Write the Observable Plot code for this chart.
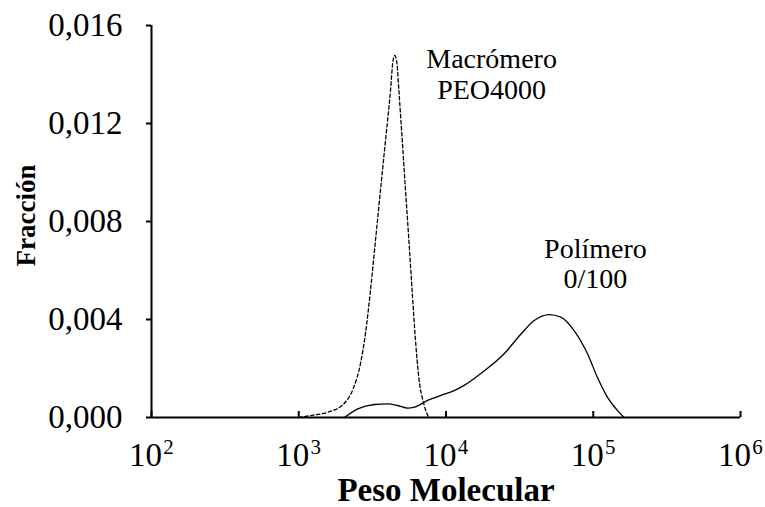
<!DOCTYPE html>
<html>
<head>
<meta charset="utf-8">
<script src="https://cdn.jsdelivr.net/npm/d3@7"></script>
<script src="https://cdn.jsdelivr.net/npm/@observablehq/plot@0.6"></script>
<style>
  html, body { margin: 0; padding: 0; background: #fff; }
  #chart svg { display: block; font-family: "Liberation Serif", "Times New Roman", serif; }
</style>
</head>
<body>
<div id="chart"></div>
<script>
// Macrómero PEO4000 (dashed)
const macroM    = [1000, 1259, 1585, 2023, 2366, 2624, 2838, 3069, 3319, 3589, 3882, 4198, 4345, 4487, 4645, 4786, 5047, 5309, 5598, 5888, 6209, 6531, 7063, 7638];
const macroFrac = [0, 0.0001, 0.00022, 0.00056, 0.00124, 0.00219, 0.00342, 0.00518, 0.00722, 0.00927, 0.0113, 0.01335, 0.01445, 0.01478, 0.01445, 0.01335, 0.0113, 0.00927, 0.00722, 0.00518, 0.00314, 0.00165, 0.00056, 0];

// Polímero 0/100 (solid)
const polyM    = [2042, 2518, 3266, 4027, 4699, 5495, 6095, 7499, 9247, 11376, 13183, 17258, 24831, 32211, 39719, 50234, 60256, 74131, 91411, 106660, 124738, 145881, 161808];
const polyFrac = [0, 0.00035, 0.00053, 0.00056, 0.00049, 0.00038, 0.00042, 0.0007, 0.0009, 0.0011, 0.0013, 0.0018, 0.0026, 0.0034, 0.00396, 0.0042, 0.0041, 0.00355, 0.0026, 0.00164, 0.00083, 0.00029, 0];

// Axes
const xTicks = [1e2, 1e3, 1e4, 1e5, 1e6];
const xTickBase = "10";
const xTickExp = ["2", "3", "4", "5", "6"];
const yTicks = [0, 0.004, 0.008, 0.012, 0.016];
const xTitle = "Peso Molecular";
const yTitle = "Fracción";

// Annotations
const annLabels = ["Macrómero\nPEO4000", "Polímero\n0/100"];
const annM = [20400, 103500];
const annFrac = [0.01302, 0.00527];

const macro = macroM.map((m, i) => ({m, f: macroFrac[i]}));
const poly = polyM.map((m, i) => ({m, f: polyFrac[i]}));
const ann = annLabels.map((t, i) => ({t, m: annM[i], f: annFrac[i]}));
const xt = xTicks.map((v, i) => ({v, e: xTickExp[i]}));

const chart = Plot.plot({
  width: 765,
  height: 507,
  marginLeft: 151,
  marginRight: 25,
  marginTop: 25,
  marginBottom: 90,
  x: {type: "log", domain: [1e2, 1e6]},
  y: {domain: [0, 0.016]},
  marks: [
    // axis lines
    Plot.ruleX([1e2], {stroke: "#000", strokeWidth: 2}),
    Plot.ruleY([0], {stroke: "#000", strokeWidth: 2}),
    // y axis ticks & labels
    Plot.axisY({
      ticks: yTicks,
      tickSize: 5,
      tickPadding: 24,
      tickFormat: d => d.toFixed(3).replace(".", ","),
      fontSize: 33,
      strokeWidth: 2,
      label: null,
      fill: "#000",
      stroke: "#000"
    }),
    // x axis inward ticks
    Plot.axisX({
      ticks: xTicks,
      tickSize: -6,
      tickFormat: () => "",
      strokeWidth: 2,
      stroke: "#000",
      label: null
    }),
    // x tick labels "10"
    Plot.axisX({
      ticks: xTicks,
      tickSize: 0,
      tickPadding: 25,
      tickFormat: () => xTickBase,
      dx: -6,
      fontSize: 33,
      fill: "#000",
      label: null
    }),
    // exponents
    Plot.text(xt, {
      x: "v",
      frameAnchor: "bottom",
      text: "e",
      dx: 17,
      dy: 22,
      lineAnchor: "top",
      fontSize: 21,
      fill: "#000"
    }),
    // curves
    Plot.line(macro, {x: "m", y: "f", stroke: "#000", strokeWidth: 1.3, strokeDasharray: "3.5,2.5", curve: "monotone-x"}),
    Plot.line(poly, {x: "m", y: "f", stroke: "#000", strokeWidth: 1.3, curve: "monotone-x"}),
    // annotations
    Plot.text(ann, {x: "m", y: "f", text: "t", fontSize: 28, lineHeight: 1.1, lineAnchor: "bottom", fill: "#000"}),
    // axis titles
    Plot.text([xTitle], {frameAnchor: "bottom", text: d => d, dy: 83, lineAnchor: "bottom", fontSize: 33, fontWeight: "bold", fill: "#000"}),
    Plot.text([yTitle], {frameAnchor: "left", text: d => d, textAnchor: "middle", lineAnchor: "middle", dx: -125, dy: -6, rotate: -90, fontSize: 27, fontWeight: "bold", fill: "#000"})
  ]
});
document.getElementById("chart").appendChild(chart);
</script>
</body>
</html>
